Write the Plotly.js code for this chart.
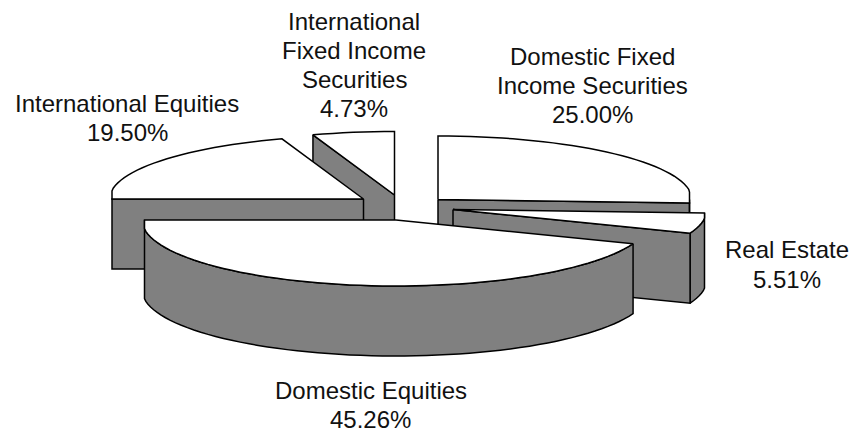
<!DOCTYPE html>
<html>
<head>
<meta charset="utf-8">
<script src="https://cdn.plot.ly/plotly-3.0.1.min.js"></script>
<style>html,body{margin:0;padding:0;background:#fff}#chart{width:853px;height:435px}</style>
</head>
<body>
<div id="chart"></div>
<script>
// ---- data, clockwise from 12 o'clock ----
const categories = ["Domestic Fixed Income Securities", "Real Estate", "Domestic Equities", "International Equities", "International Fixed Income Securities"];
const shares = [25.00, 5.51, 45.26, 19.50, 4.73];
const labelLines = [["Domestic Fixed", "Income Securities"], ["Real Estate"], ["Domestic Equities"], ["International Equities"], ["International", "Fixed Income", "Securities"]];

// ---- projection of the exploded 3-D pie ----
const centreX = [438, 453, 396, 363.5, 394.5];
const centreY = [199.5, 209.5, 220, 199, 195];
const labelX = [592.5, 786.5, 370.5, 127, 354];
const firstBaseline = [65, 258, 399, 112, 30];
const lineGap = [29, 30, 29.5, 29, 29];
const rX = 254, clipX = 251.5, rYBack = 63.5, rYFront = 66, depth = 70;
const boundaryNudge = [0, 3, 1.2, -2.8, -1.7]; // degrees, at each slice's starting edge
const TOP = "#ffffff", SIDE = "#808080", EDGE = "#000000";

let running = 0;
const startT = shares.map((s, i) => { const t = -90 + running * 3.6 + boundaryNudge[i]; running += s; return t; });
const endT = shares.map((s, i) => i + 1 < shares.length ? startT[i + 1] : 270);

function point(i, t) {
  const r = t * Math.PI / 180, s = Math.sin(r);
  const x = Math.max(-clipX, Math.min(clipX, rX * Math.cos(r)));
  return [centreX[i] + x, centreY[i] + s * (s > 0 ? rYFront : rYBack)];
}
function arc(i, a, b) {
  const pts = [], n = Math.max(2, Math.ceil((b - a) / 2.5));
  for (let k = 0; k <= n; k++) pts.push(point(i, a + (b - a) * k / n));
  return pts;
}
function poly(pts, fill) {
  const p = pts.concat([pts[0]]);
  return { type: "scatter", mode: "lines", x: p.map(q => q[0]), y: p.map(q => q[1]),
    fill: "toself", fillcolor: fill, line: { color: EDGE, width: 1.5, simplify: false },
    hoverinfo: "skip", showlegend: false };
}
const down = p => [p[0], p[1] + depth];
function topFace(i) { return poly([[centreX[i], centreY[i]]].concat(arc(i, startT[i], endT[i])), TOP); }
function cutFace(i, t) {
  const c = [centreX[i], centreY[i]], e = point(i, t);
  return poly([c, e, down(e), down(c)], SIDE);
}
function rimFace(i, a, b) {
  const up = arc(i, a, b);
  return poly(up.concat(up.slice().reverse().map(down)), SIDE);
}

const traces = [
  cutFace(4, startT[4]), topFace(4),          // International Fixed Income
  cutFace(3, startT[3]), topFace(3),          // International Equities
  cutFace(0, endT[0]), rimFace(0, 0, endT[0]), topFace(0),   // Domestic Fixed Income
  rimFace(1, startT[1], endT[1]), cutFace(1, endT[1]), topFace(1), // Real Estate
  rimFace(2, startT[2], endT[2]), topFace(2)  // Domestic Equities
];

const FONT_SIZE = 24, BASELINE_TO_MIDDLE = 9;
const annotations = categories.flatMap((c, i) =>
  labelLines[i].concat([shares[i].toFixed(2) + "%"]).map((line, k) => ({
    x: labelX[i], y: firstBaseline[i] + k * lineGap[i] - BASELINE_TO_MIDDLE,
    xref: "x", yref: "y", xanchor: "center", yanchor: "middle",
    showarrow: false, align: "center", text: line,
    font: { family: "Liberation Sans, Arial, sans-serif", size: FONT_SIZE, color: "#111111" }
  })));

Plotly.newPlot("chart", traces, {
  width: 853, height: 435, margin: { l: 0, r: 0, t: 0, b: 0 },
  paper_bgcolor: "#fff", plot_bgcolor: "#fff", showlegend: false,
  xaxis: { range: [0, 853], visible: false, fixedrange: true },
  yaxis: { range: [435, 0], visible: false, fixedrange: true },
  annotations
}, { displayModeBar: false, staticPlot: true });
</script>
</body>
</html>
